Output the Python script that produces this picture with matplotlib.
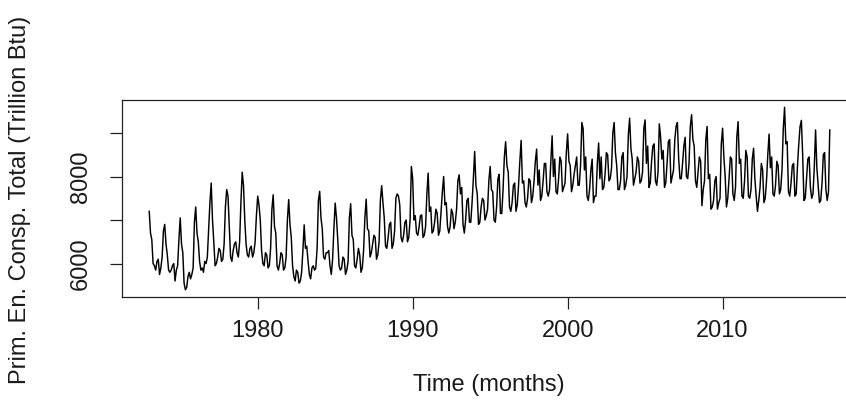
import matplotlib
matplotlib.use("Agg")
import matplotlib.pyplot as plt
import numpy as np

# Monthly total primary energy consumption (trillion Btu), Jan..Dec per row
start_year = 1973
cons_1970s = [
    [7200, 6700, 6550, 6000, 5950, 5850, 6050, 6100, 5750, 5900, 6150, 6750],  # 1973
    [6900, 6450, 6200, 5850, 5800, 5850, 5950, 6000, 5600, 5850, 5950, 6550],  # 1974
    [7050, 6450, 6250, 5550, 5400, 5450, 5700, 5800, 5650, 5750, 5900, 6950],  # 1975
    [7300, 6700, 6500, 6050, 5850, 5900, 5800, 6050, 6000, 6150, 6800, 7400],  # 1976
    [7850, 7000, 6500, 5950, 6000, 6150, 6350, 6300, 6050, 6100, 6450, 7300],  # 1977
    [7700, 7550, 6850, 6150, 6050, 6300, 6450, 6500, 6250, 6150, 6500, 7400],  # 1978
    [8100, 7800, 7000, 6450, 6200, 6150, 6350, 6400, 6150, 6250, 6500, 7100],  # 1979
]
cons_1980s = [
    [7550, 7350, 7000, 6300, 6000, 5950, 6250, 6200, 5900, 5950, 6350, 7250],  # 1980
    [7580, 6850, 6700, 5950, 5850, 6000, 6250, 6200, 5850, 5900, 6150, 7000],  # 1981
    [7470, 6900, 6600, 5950, 5700, 5600, 5850, 5800, 5550, 5600, 5800, 6300],  # 1982
    [6890, 6350, 6400, 6050, 5750, 5650, 5900, 5950, 5850, 5900, 6350, 7450],  # 1983
    [7660, 7050, 6800, 6150, 6100, 6250, 6250, 6300, 5950, 5750, 6100, 6800],  # 1984
    [7390, 7050, 6550, 5950, 5850, 5900, 6150, 6100, 5750, 5850, 6050, 7050],  # 1985
    [7375, 6650, 6550, 5950, 5900, 6100, 6350, 6200, 5800, 5900, 6300, 7050],  # 1986
    [7480, 6800, 6750, 6150, 6250, 6450, 6650, 6600, 6100, 6200, 6500, 7450],  # 1987
    [7790, 7400, 7050, 6400, 6350, 6600, 6900, 6950, 6350, 6450, 6750, 7500],  # 1988
    [7600, 7550, 7350, 6600, 6500, 6650, 6950, 7000, 6500, 6600, 7000, 8230],  # 1989
]
cons_1990s = [
    [7950, 7000, 7100, 6700, 6650, 6850, 7100, 7120, 6600, 6650, 6850, 7600],  # 1990
    [8080, 7200, 7300, 6700, 6750, 6950, 7250, 7150, 6650, 6750, 7200, 7650],  # 1991
    [8000, 7350, 7400, 6850, 6700, 6850, 7250, 7150, 6800, 6950, 7250, 7900],  # 1992
    [8040, 7600, 7750, 6900, 6700, 7000, 7450, 7500, 6950, 6950, 7400, 7950],  # 1993
    [8575, 7800, 7600, 6900, 6950, 7300, 7500, 7450, 7000, 7100, 7250, 7900],  # 1994
    [8230, 7700, 7650, 7000, 6950, 7300, 7950, 8050, 7150, 7150, 7700, 8450],  # 1995
    [8800, 8250, 8100, 7300, 7200, 7400, 7800, 7850, 7200, 7350, 7800, 8350],  # 1996
    [8830, 7850, 7900, 7400, 7300, 7500, 7950, 7900, 7400, 7550, 7900, 8350],  # 1997
    [8630, 7800, 8150, 7450, 7550, 7900, 8300, 8300, 7650, 7550, 7700, 8350],  # 1998
    [8935, 8000, 8400, 7650, 7600, 7950, 8450, 8350, 7650, 7750, 7850, 8550],  # 1999
]
cons_2000s = [
    [8980, 8350, 8250, 7650, 7800, 8050, 8250, 8450, 7800, 7800, 8250, 9240],  # 2000
    [9100, 8150, 8450, 7550, 7450, 7700, 8150, 8400, 7400, 7550, 7550, 8300],  # 2001
    [8770, 7950, 8450, 7700, 7750, 8050, 8550, 8500, 7900, 7950, 8200, 9000],  # 2002
    [9240, 8550, 8250, 7700, 7700, 7900, 8450, 8550, 7700, 7800, 8000, 8950],  # 2003
    [9340, 8650, 8400, 7800, 7950, 8100, 8450, 8350, 7850, 7900, 8100, 9100],  # 2004
    [9300, 8300, 8700, 7750, 7850, 8350, 8700, 8750, 7900, 7800, 8100, 9210],  # 2005
    [8900, 8400, 8600, 7750, 7850, 8300, 8800, 8850, 7850, 8000, 8150, 8850],  # 2006
    [9150, 9240, 8400, 7950, 7950, 8300, 8700, 8900, 8000, 7950, 8300, 9150],  # 2007
    [9420, 8850, 8700, 7900, 7750, 8100, 8450, 8350, 7330, 7700, 7900, 8850],  # 2008
    [9150, 7950, 8050, 7250, 7300, 7450, 7900, 8000, 7250, 7400, 7500, 8750],  # 2009
]
cons_2010s = [
    [9110, 8450, 8000, 7300, 7500, 7950, 8450, 8400, 7600, 7450, 7750, 8900],  # 2010
    [9260, 8300, 8400, 7550, 7500, 7900, 8600, 8450, 7550, 7500, 7700, 8400],  # 2011
    [8650, 7950, 7550, 7200, 7450, 7750, 8300, 8150, 7400, 7500, 7900, 8500],  # 2012
    [8975, 8200, 8450, 7600, 7550, 7800, 8350, 8250, 7600, 7700, 8150, 9100],  # 2013
    [9590, 8750, 8800, 7650, 7550, 7850, 8250, 8300, 7550, 7600, 8250, 8750],  # 2014
    [9150, 9290, 8500, 7450, 7500, 7950, 8400, 8450, 7750, 7500, 7600, 8200],  # 2015
    [9070, 8200, 7800, 7400, 7450, 7850, 8500, 8550, 7700, 7450, 7650, 9070],  # 2016
]

x_ticks = [1980, 1990, 2000, 2010]
y_ticks = [6000, 7000, 8000, 9000]
y_tick_labels = ["6000", "", "8000", ""]
x_label = "Time (months)"
y_label = "Prim. En. Consp. Total (Trillion Btu)"

values = np.concatenate([np.ravel(np.array(a)) for a in
                         (cons_1970s, cons_1980s, cons_1990s, cons_2000s, cons_2010s)])
t = start_year + np.arange(len(values)) / 12.0

plt.rcParams['font.family'] = ['Liberation Sans', 'DejaVu Sans']
FS = 17
TXT = '#1a1a1a'

W, H = 846, 416
fig = plt.figure(figsize=(W / 100, H / 100), dpi=100)
ax = fig.add_axes([122 / W, (H - 297) / H, 735 / W, 197 / H])
ax.plot(t, values, color='black', lw=1.05)

xr = t.max() - t.min()
ax.set_xlim(t.min() - 0.04 * xr, t.max() + 0.04 * xr)
yr = values.max() - values.min()
ax.set_ylim(values.min() - 0.04 * yr, values.max() + 0.04 * yr)

ax.set_xticks(x_ticks)
ax.set_xticklabels([str(v) for v in x_ticks], fontsize=FS, color=TXT)
ax.set_yticks(y_ticks)
ax.set_yticklabels(y_tick_labels, fontsize=FS, rotation=90, va='center', color=TXT)

for s in ax.spines.values():
    s.set_color('#222222')
    s.set_linewidth(0.9)
ax.tick_params(axis='both', direction='out', length=8.5, width=0.9, color='#222222')
ax.tick_params(axis='x', pad=8)
ax.tick_params(axis='y', pad=13)

fig.text(489 / W, 1 - 385 / H, x_label, ha='center', va='center', fontsize=FS, color=TXT)
fig.text(20 / W, 1 - 200 / H, y_label, ha='center', va='center', rotation=90, fontsize=FS, color=TXT)

fig.savefig("out.png", dpi=100)
